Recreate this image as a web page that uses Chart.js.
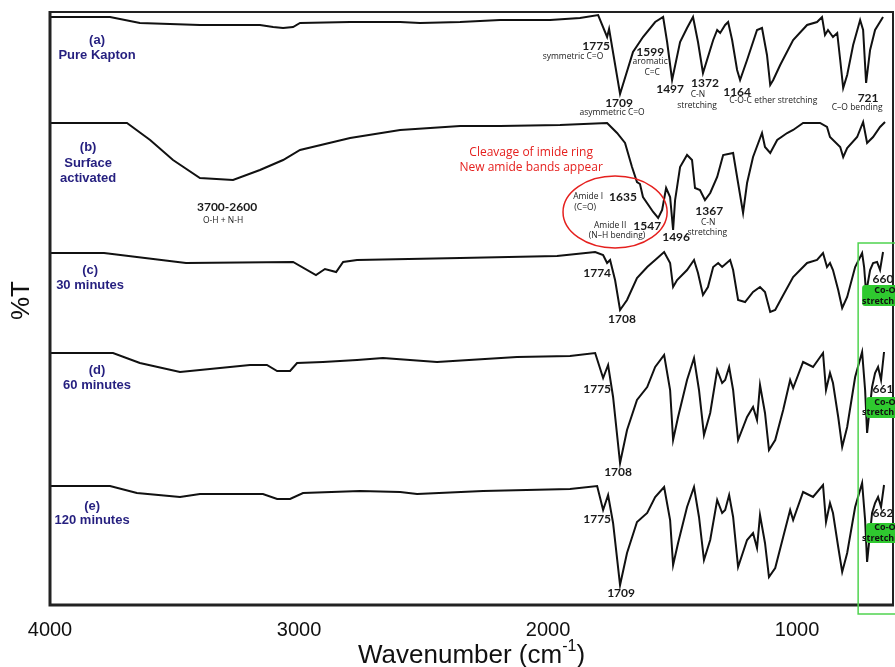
<!DOCTYPE html>
<html>
<head>
<meta charset="utf-8">
<script src="https://cdn.jsdelivr.net/npm/chart.js@4.4.1/dist/chart.umd.min.js"></script>
<style>
    html, body { margin: 0; padding: 0; background: #fff; }
    #ftirChart { display: block; }
</style>
</head>
<body>
<canvas id="ftirChart" width="895" height="667"></canvas>
<script>
// x = wavenumber (cm-1), y = %T with the traces stacked (arbitrary offset units)
const tickValues = [4000, 3000, 2000, 1000];

const waveA = [4000, 3759, 3639, 3398, 3157, 3104, 3064, 3024, 2996, 2795, 2594, 2514, 2353, 2193, 1992, 1872, 1799, 1763, 1755, 1711, 1659, 1619, 1570, 1538, 1522, 1502, 1470, 1442, 1418, 1398, 1378, 1337, 1321, 1309, 1289, 1277, 1261, 1241, 1229, 1201, 1161, 1141, 1121, 1108, 1096, 1068, 1016, 960, 920, 900, 888, 876, 856, 839, 827, 815, 799, 775, 747, 735, 723, 707, 687, 655];
const transA = [588, 588, 582, 580, 580, 578, 577, 578, 582, 583, 583, 582, 583, 585, 585, 587, 590, 568, 576, 511, 553, 568, 583, 588, 563, 525, 563, 577, 588, 563, 532, 565, 575, 572, 580, 583, 565, 535, 525, 545, 575, 577, 550, 520, 525, 540, 565, 580, 583, 588, 570, 575, 568, 572, 545, 517, 530, 560, 585, 575, 522, 555, 575, 588];

const waveB = [4000, 3691, 3598, 3506, 3398, 3265, 3157, 3064, 2996, 2795, 2594, 2353, 2193, 1952, 1763, 1723, 1691, 1663, 1643, 1631, 1619, 1578, 1558, 1542, 1526, 1510, 1498, 1490, 1470, 1442, 1422, 1410, 1390, 1370, 1349, 1321, 1297, 1257, 1237, 1217, 1201, 1177, 1141, 1129, 1108, 1080, 1040, 1016, 976, 908, 880, 868, 827, 815, 799, 759, 735, 719, 695, 667, 647];
const transB = [482, 482, 465, 445, 427, 425, 435, 445, 455, 467, 475, 479, 479, 480, 482, 472, 462, 438, 423, 421, 408, 393, 387, 395, 417, 408, 375, 405, 438, 450, 445, 417, 415, 405, 412, 428, 450, 452, 422, 392, 422, 448, 472, 458, 452, 465, 472, 475, 482, 482, 478, 468, 458, 448, 457, 468, 483, 462, 468, 478, 483];

const waveC = [4000, 3783, 3454, 3024, 2932, 2896, 2851, 2823, 2767, 2353, 1964, 1811, 1779, 1763, 1751, 1731, 1711, 1683, 1643, 1602, 1570, 1534, 1510, 1498, 1482, 1442, 1414, 1398, 1378, 1358, 1337, 1317, 1301, 1269, 1257, 1237, 1209, 1177, 1149, 1129, 1108, 1088, 1060, 1016, 960, 920, 896, 880, 868, 856, 835, 819, 799, 767, 739, 731, 723, 707, 695, 679, 667, 655];
const transC = [352, 352, 342, 343, 330, 336, 333, 343, 345, 347, 349, 353, 350, 342, 345, 325, 295, 305, 327, 338, 345, 353, 342, 318, 325, 335, 345, 332, 310, 318, 338, 342, 338, 345, 335, 305, 303, 313, 318, 313, 293, 295, 308, 328, 342, 345, 352, 338, 342, 335, 315, 297, 308, 338, 352, 338, 312, 335, 342, 343, 335, 353];

const waveD = [4000, 3747, 3639, 3478, 3197, 3129, 3088, 3036, 3008, 2904, 2767, 2663, 2446, 2125, 1912, 1811, 1779, 1759, 1739, 1711, 1683, 1643, 1602, 1570, 1534, 1510, 1498, 1478, 1442, 1414, 1394, 1374, 1349, 1321, 1301, 1289, 1273, 1257, 1237, 1201, 1177, 1161, 1149, 1129, 1113, 1088, 1056, 1028, 1016, 976, 936, 896, 884, 868, 856, 835, 819, 799, 767, 739, 727, 719, 699, 687, 675, 663, 651];
const transD = [252, 252, 242, 233, 240, 240, 234, 234, 242, 243, 245, 247, 243, 248, 249, 252, 227, 240, 208, 142, 175, 205, 218, 238, 250, 215, 165, 188, 225, 247, 215, 170, 192, 235, 222, 225, 238, 215, 165, 188, 198, 185, 220, 192, 155, 165, 195, 225, 217, 243, 238, 252, 215, 232, 222, 188, 158, 178, 228, 253, 215, 172, 218, 232, 238, 225, 253];

const waveE = [4000, 3759, 3651, 3478, 3398, 3145, 3088, 3036, 2984, 2755, 2594, 2526, 2261, 1912, 1803, 1779, 1759, 1739, 1711, 1683, 1643, 1602, 1570, 1534, 1510, 1498, 1478, 1442, 1414, 1394, 1374, 1349, 1321, 1301, 1289, 1273, 1257, 1237, 1201, 1177, 1161, 1149, 1129, 1113, 1088, 1056, 1028, 1016, 976, 936, 896, 884, 868, 856, 835, 819, 799, 767, 739, 727, 719, 699, 687, 675, 663, 651];
const transE = [119, 119, 112, 108, 111, 111, 106, 106, 112, 114, 113, 111, 114, 116, 119, 95, 110, 82, 20, 52, 83, 92, 108, 118, 85, 40, 62, 98, 118, 88, 45, 65, 105, 92, 95, 110, 88, 38, 65, 72, 57, 90, 62, 28, 37, 68, 95, 85, 113, 108, 120, 83, 102, 92, 58, 33, 52, 98, 122, 85, 43, 92, 102, 108, 98, 120];

const seriesNames = ['(a) Pure Kapton', '(b) Surface activated', '(c) 30 minutes', '(d) 60 minutes', '(e) 120 minutes'];

// [text, wavenumber, y, style]
const notes = [
    ['(a)', 3811, 565, 'series'], ['Pure Kapton', 3811, 550, 'series'],
    ['(b)', 3847, 458, 'series'], ['Surface', 3847, 442, 'series'], ['activated', 3847, 427, 'series'],
    ['(c)', 3839, 335, 'series'], ['30 minutes', 3839, 320, 'series'],
    ['(d)', 3811, 235, 'series'], ['60 minutes', 3811, 220, 'series'],
    ['(e)', 3831, 99, 'series'], ['120 minutes', 3831, 85, 'series'],

    ['1775', 1807, 559, 'num'], ['symmetric C=O', 1900, 548, 'note'],
    ['1599', 1590, 553, 'num'], ['aromatic', 1590, 543, 'note'], ['C=C', 1582, 532, 'note'],
    ['1709', 1715, 502, 'num'], ['asymmetric C=O', 1743, 492, 'note'],
    ['1497', 1510, 516, 'num'],
    ['1372', 1370, 522, 'num'], ['C-N', 1398, 510, 'note'], ['stretching', 1402, 499, 'note'],
    ['1164', 1241, 513, 'num'], ['C-O-C ether stretching', 1096, 504, 'note'],
    ['721', 715, 507, 'num'], ['C\u2013O bending', 759, 497, 'note'],

    ['3700-2600', 3289, 398, 'num'], ['O-H + N-H', 3305, 384, 'note'],
    ['Cleavage of imide ring', 2068, 452, 'red'], ['New amide bands appear', 2068, 437, 'red'],
    ['Amide I', 1839, 408, 'note'], ['1635', 1699, 408, 'num'], ['(C=O)', 1851, 397, 'note'],
    ['Amide II', 1751, 379, 'note'], ['1547', 1602, 379, 'num'], ['(N\u2013H bending)', 1723, 369, 'note'],
    ['1496', 1486, 368, 'num'],
    ['1367', 1353, 394, 'num'], ['C-N', 1357, 382, 'note'], ['stretching', 1361, 372, 'note'],

    ['1774', 1803, 332, 'num'], ['1708', 1703, 286, 'num'], ['660', 655, 326, 'num'],
    ['1775', 1803, 216, 'num'], ['1708', 1719, 133, 'num'], ['661', 655, 216, 'num'],
    ['1775', 1803, 86, 'num'], ['1709', 1707, 12, 'num'], ['662', 655, 92, 'num']
];

// green Co-O tags: [left wavenumber, top y, bottom y, first line y, second line y]
const coTags = [
    [739, 320, 299, 315, 304],
    [723, 208, 187, 203, 193],
    [723, 82, 62, 78, 67]
];

const noteStyles = {
    series: { font: 'bold 13px "Liberation Sans", Arial, sans-serif', color: '#251f7f' },
    num:    { font: 'bold 12px Lato, "Open Sans", sans-serif', color: '#1a1a1a' },
    note:   { font: '8.5px "Open Sans", Lato, sans-serif', color: '#1a1a1a' },
    red:    { font: '12px "Open Sans", Lato, sans-serif', color: '#e5201e' }
};

const annotationPlugin = {
    id: 'ftirNotes',
    afterDraw(chart) {
        const ctx = chart.ctx;
        const xs = chart.scales.x;
        const ys = chart.scales.y;
        const area = chart.chartArea;

        ctx.save();
        // frame
        ctx.strokeStyle = '#222';
        ctx.lineWidth = 2;
        ctx.beginPath();
        ctx.moveTo(area.left, area.top);
        ctx.lineTo(area.right, area.top);
        ctx.lineTo(area.right, area.bottom);
        ctx.stroke();
        ctx.lineWidth = 3;
        ctx.beginPath();
        ctx.moveTo(area.left, area.top - 1);
        ctx.lineTo(area.left, area.bottom);
        ctx.lineTo(area.right + 1, area.bottom);
        ctx.stroke();

        // red ellipse around the amide bands
        const cx = xs.getPixelForValue(1731);
        const cy = ys.getPixelForValue(393);
        const rx = Math.abs(xs.getPixelForValue(1731 - 209) - cx);
        const ry = Math.abs(ys.getPixelForValue(393 - 36) - cy);
        ctx.strokeStyle = '#e5201e';
        ctx.lineWidth = 1.5;
        ctx.beginPath();
        ctx.ellipse(cx, cy, rx, ry, 0, 0, Math.PI * 2);
        ctx.stroke();

        // green box around the Co-O band
        ctx.strokeStyle = '#4fd34f';
        ctx.lineWidth = 1.5;
        const gx = xs.getPixelForValue(755);
        const gTop = ys.getPixelForValue(362);
        const gBottom = ys.getPixelForValue(-9);
        ctx.strokeRect(gx, gTop, chart.width + 10 - gx, gBottom - gTop);

        coTags.forEach(tag => {
            const left = xs.getPixelForValue(tag[0]);
            const top = ys.getPixelForValue(tag[1]);
            const bottom = ys.getPixelForValue(tag[2]);
            ctx.fillStyle = '#2fc92f';
            ctx.beginPath();
            ctx.roundRect(left, top, chart.width + 10 - left, bottom - top, 3);
            ctx.fill();
            ctx.fillStyle = '#111';
            ctx.font = 'bold 9px "Open Sans", Lato, sans-serif';
            ctx.textAlign = 'center';
            ctx.textBaseline = 'middle';
            ctx.fillText('Co-O', xs.getPixelForValue(647), ys.getPixelForValue(tag[3]));
            ctx.fillText('stretching', xs.getPixelForValue(647), ys.getPixelForValue(tag[4]));
        });

        // text notes
        ctx.textAlign = 'center';
        ctx.textBaseline = 'middle';
        notes.forEach(n => {
            const st = noteStyles[n[3]];
            ctx.font = st.font;
            ctx.fillStyle = st.color;
            ctx.fillText(n[0], xs.getPixelForValue(n[1]), ys.getPixelForValue(n[2]));
        });

        // axis titles
        ctx.fillStyle = '#111';
        ctx.font = '26px "Liberation Sans", Arial, sans-serif';
        const main = 'Wavenumber (cm';
        const sup = '-1';
        const tail = ')';
        const wMain = ctx.measureText(main).width;
        const wTail = ctx.measureText(tail).width;
        ctx.font = '16px "Liberation Sans", Arial, sans-serif';
        const wSup = ctx.measureText(sup).width;
        let tx = (area.left + area.right) / 2 - (wMain + wSup + wTail) / 2;
        const ty = 656;
        ctx.textAlign = 'left';
        ctx.textBaseline = 'middle';
        ctx.font = '26px "Liberation Sans", Arial, sans-serif';
        ctx.fillText(main, tx, ty);
        ctx.font = '16px "Liberation Sans", Arial, sans-serif';
        ctx.fillText(sup, tx + wMain, ty - 9);
        ctx.font = '26px "Liberation Sans", Arial, sans-serif';
        ctx.fillText(tail, tx + wMain + wSup, ty);

        ctx.translate(22, (area.top + area.bottom) / 2 - 8);
        ctx.rotate(-Math.PI / 2);
        ctx.textAlign = 'center';
        ctx.font = '26px "Liberation Sans", Arial, sans-serif';
        ctx.fillText('%T', 0, 0);
        ctx.restore();
    }
};

function makeSeries(label, waves, trans) {
    return {
        label: label,
        data: waves.map((w, i) => ({ x: w, y: trans[i] })),
        borderColor: '#111',
        borderWidth: 2,
        pointRadius: 0,
        tension: 0,
        fill: false
    };
}

const ctx = document.getElementById('ftirChart').getContext('2d');
new Chart(ctx, {
    type: 'line',
    data: {
        datasets: [
            makeSeries(seriesNames[0], waveA, transA),
            makeSeries(seriesNames[1], waveB, transB),
            makeSeries(seriesNames[2], waveC, transC),
            makeSeries(seriesNames[3], waveD, transD),
            makeSeries(seriesNames[4], waveE, transE)
        ]
    },
    options: {
        responsive: false,
        animation: false,
        layout: { padding: { left: 50, right: 2, top: 12, bottom: 12 } },
        plugins: {
            legend: { display: false },
            tooltip: { enabled: false }
        },
        scales: {
            x: {
                type: 'linear',
                reverse: true,
                min: 615,
                max: 4000,
                afterBuildTicks: axis => {
                    axis.ticks = tickValues.map(v => ({ value: v }));
                },
                grid: { display: false, drawTicks: false },
                border: { display: false },
                ticks: {
                    color: '#111',
                    padding: 13,
                    maxRotation: 0,
                    callback: value => String(value),
                    font: { family: '"Liberation Sans", Arial, sans-serif', size: 20 }
                }
            },
            y: {
                display: false,
                min: 0,
                max: 593
            }
        }
    },
    plugins: [annotationPlugin]
});
</script>
</body>
</html>
